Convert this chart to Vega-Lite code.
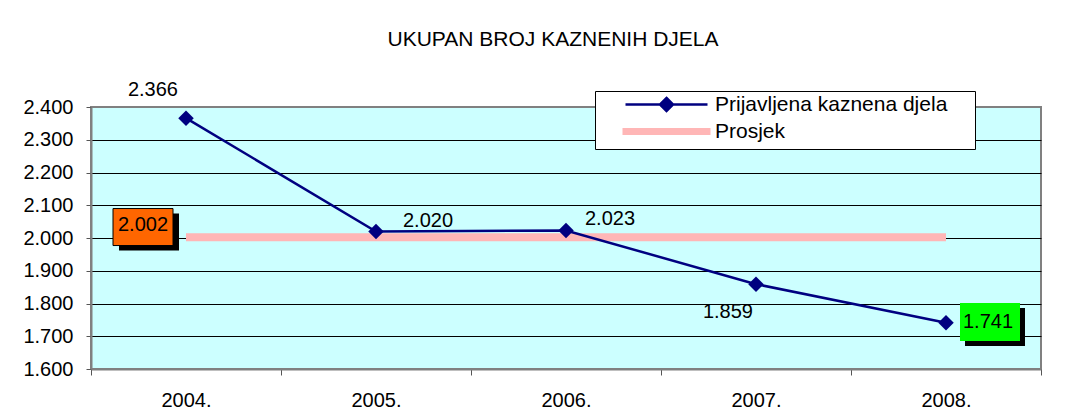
{
  "$schema": "https://vega.github.io/schema/vega-lite/v6.json",
  "width": 950,
  "height": 262,
  "autosize": {"type": "none"},
  "padding": {"left": 91, "top": 107, "right": 24, "bottom": 43},
  "background": "white",
  "title": {
    "text": "UKUPAN BROJ KAZNENIH DJELA",
    "fontSize": 21,
    "font": "Liberation Sans",
    "fontWeight": "normal",
    "color": "black",
    "anchor": "middle",
    "frame": "group",
    "baseline": "alphabetic",
    "offset": 13,
    "dx": -13
  },
  "datasets": {
    "main": [
      {"year": "2004.", "value": 2366, "series": "Prijavljena kaznena djela"},
      {"year": "2005.", "value": 2020, "series": "Prijavljena kaznena djela"},
      {"year": "2006.", "value": 2023, "series": "Prijavljena kaznena djela"},
      {"year": "2007.", "value": 1859, "series": "Prijavljena kaznena djela"},
      {"year": "2008.", "value": 1741, "series": "Prijavljena kaznena djela"}
    ],
    "avg": [
      {"year": "2004.", "value": 2002, "series": "Prosjek"},
      {"year": "2008.", "value": 2002, "series": "Prosjek"}
    ]
  },
  "encoding": {
    "x": {
      "field": "year",
      "type": "ordinal",
      "sort": ["2004.", "2005.", "2006.", "2007.", "2008."],
      "scale": {"type": "band", "paddingInner": 0, "paddingOuter": 0, "domain": ["2004.", "2005.", "2006.", "2007.", "2008."]},
      "axis": {
        "title": null,
        "labelAngle": 0,
        "tickBand": "extent",
        "tickSize": 6,
        "labelPadding": 15,
        "labelFontSize": 20,
        "labelFont": "Liberation Sans",
        "labelColor": "black",
        "domainColor": "#808080",
        "domainWidth": 2,
        "tickColor": "#555555",
        "grid": false
      }
    },
    "y": {
      "field": "value",
      "type": "quantitative",
      "scale": {"domain": [1600, 2400], "nice": false, "zero": false},
      "axis": {
        "title": null,
        "values": [1600, 1700, 1800, 1900, 2000, 2100, 2200, 2300, 2400],
        "format": ",d",
        "tickSize": 5,
        "labelPadding": 13,
        "labelFontSize": 20,
        "labelFont": "Liberation Sans",
        "labelColor": "black",
        "domainColor": "#808080",
        "domainWidth": 2,
        "tickColor": "#555555",
        "grid": true,
        "gridColor": {"condition": {"test": "datum.value == 2400 || datum.value == 1600", "value": "#808080"}, "value": "black"},
        "gridWidth": 1
      }
    }
  },
  "layer": [
    {
      "data": {"name": "avg"},
      "mark": {"type": "line", "strokeWidth": 8, "strokeCap": "butt"},
      "encoding": {
        "color": {
          "field": "series",
          "type": "nominal",
          "scale": {"domain": ["Prijavljena kaznena djela", "Prosjek"], "range": ["#000080", "#ffb6b6"]},
          "legend": {
            "orient": "none",
            "legendX": 504,
            "legendY": -16,
            "title": null,
            "fillColor": "white",
            "strokeColor": "black",
            "padding": 3,
            "rowPadding": 1,
            "labelFontSize": 21,
            "labelFont": "Liberation Sans",
            "labelColor": "black",
            "labelLimit": 500,
            "symbolSize": 400,
            "symbolOffset": 58,
            "labelOffset": 38,
            "encode": {
              "symbols": {
                "update": {
                  "shape": {"signal": "datum.value === 'Prosjek' ? 'M-4.4,0H4.4M29.1,0h0.001' : 'M-4.1,0H4.1M0,-0.65L0.65,0L0,0.65L-0.65,0Z'"},
                  "fill": {"signal": "datum.value === 'Prosjek' ? 'transparent' : '#000080'"},
                  "stroke": {"signal": "datum.value === 'Prosjek' ? '#ffb6b6' : '#000080'"},
                  "strokeWidth": {"signal": "datum.value === 'Prosjek' ? 7 : 2.5"},
                  "strokeCap": {"value": "butt"},
                  "opacity": {"value": 1}
                }
              }
            }
          }
        }
      }
    },
    {
      "data": {"name": "main"},
      "mark": {"type": "line", "strokeWidth": 2.5},
      "encoding": {
        "color": {"field": "series", "type": "nominal"}
      }
    },
    {
      "data": {"name": "main"},
      "mark": {"type": "point", "shape": "diamond", "size": 240, "filled": true, "opacity": 1, "color": "#000080"}
    },
    {
      "data": {"name": "main"},
      "transform": [{"filter": "datum.year === '2004.'"}],
      "mark": {"type": "text", "align": "right", "baseline": "alphabetic", "dx": -8, "dy": -22, "fontSize": 20, "font": "Liberation Sans", "color": "black"},
      "encoding": {"text": {"field": "value", "type": "quantitative", "format": ",d"}}
    },
    {
      "data": {"name": "main"},
      "transform": [{"filter": "datum.year === '2005.'"}],
      "mark": {"type": "text", "align": "left", "baseline": "alphabetic", "dx": 27, "dy": -4, "fontSize": 20, "font": "Liberation Sans", "color": "black"},
      "encoding": {"text": {"field": "value", "type": "quantitative", "format": ",d"}}
    },
    {
      "data": {"name": "main"},
      "transform": [{"filter": "datum.year === '2006.'"}],
      "mark": {"type": "text", "align": "left", "baseline": "alphabetic", "dx": 19, "dy": -5, "fontSize": 20, "font": "Liberation Sans", "color": "black"},
      "encoding": {"text": {"field": "value", "type": "quantitative", "format": ",d"}}
    },
    {
      "data": {"name": "main"},
      "transform": [{"filter": "datum.year === '2007.'"}],
      "mark": {"type": "text", "align": "right", "baseline": "alphabetic", "dx": -3, "dy": 34, "fontSize": 20, "font": "Liberation Sans", "color": "black"},
      "encoding": {"text": {"field": "value", "type": "quantitative", "format": ",d"}}
    },
    {
      "data": {"name": "main"},
      "transform": [{"filter": "datum.year === '2008.'"}],
      "mark": {"type": "point", "shape": "M1.9,-1.48H7.9V2.32H1.9Z", "size": 400, "filled": true, "opacity": 1, "color": "black", "strokeWidth": 0}
    },
    {
      "data": {"name": "main"},
      "transform": [{"filter": "datum.year === '2008.'"}],
      "mark": {"type": "point", "shape": "M1.4,-1.98H7.4V1.82H1.4Z", "size": 400, "filled": true, "opacity": 1, "color": "#00ff00", "strokeWidth": 0}
    },
    {
      "data": {"name": "main"},
      "transform": [{"filter": "datum.year === '2008.'"}],
      "mark": {"type": "text", "align": "center", "baseline": "middle", "dx": 42, "dy": -1, "fontSize": 20, "font": "Liberation Sans", "color": "black"},
      "encoding": {"text": {"field": "value", "type": "quantitative", "format": ",d"}}
    },
    {
      "data": {"name": "avg"},
      "transform": [{"filter": "datum.year === '2004.'"}],
      "mark": {"type": "point", "shape": "M-6.7,-2.38H-0.7V1.32H-6.7Z", "size": 400, "filled": true, "opacity": 1, "color": "black", "strokeWidth": 0}
    },
    {
      "data": {"name": "avg"},
      "transform": [{"filter": "datum.year === '2004.'"}],
      "mark": {"type": "point", "shape": "M-7.3,-2.88H-1.3V0.82H-7.3Z", "size": 400, "filled": true, "opacity": 1, "fill": "#ff6600", "stroke": "black", "strokeWidth": 1}
    },
    {
      "data": {"name": "avg"},
      "transform": [{"filter": "datum.year === '2004.'"}],
      "mark": {"type": "text", "align": "center", "baseline": "middle", "dx": -43, "dy": -12, "fontSize": 20, "font": "Liberation Sans", "color": "black"},
      "encoding": {"text": {"field": "value", "type": "quantitative", "format": ",d"}}
    }
  ],
  "config": {
    "locale": {"number": {"decimal": ",", "thousands": ".", "grouping": [3], "currency": ["", " kn"]}},
    "view": {"fill": "#ccffff", "stroke": "#808080", "strokeWidth": 2}
  }
}
